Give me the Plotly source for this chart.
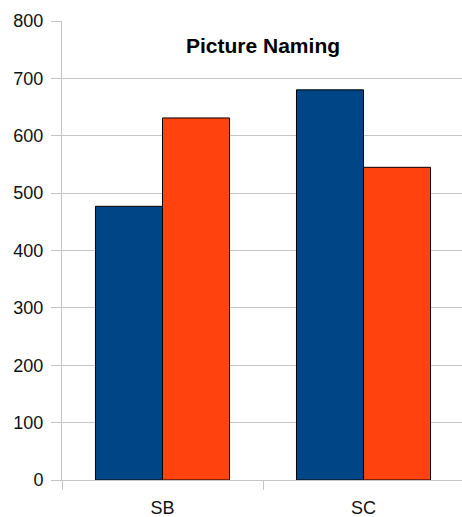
import plotly.graph_objects as go

categories = ["SB", "SC"]
series_a = [477, 680]
series_b = [631, 545]
y_ticks = [0, 100, 200, 300, 400, 500, 600, 700, 800]

FONT = "Liberation Sans, Arial, sans-serif"

fig = go.Figure()
fig.add_trace(go.Bar(x=categories, y=series_a, marker=dict(color="#004586", line=dict(color="#000000", width=1))))
fig.add_trace(go.Bar(x=categories, y=series_b, marker=dict(color="#ff420e", line=dict(color="#000000", width=1))))

fig.update_layout(
    width=462, height=517,
    margin=dict(l=62, r=0, t=21, b=37, autoexpand=False),
    paper_bgcolor="white", plot_bgcolor="white",
    showlegend=False,
    barmode="group", bargap=0.333, bargroupgap=0,
    font=dict(family=FONT, size=18, color="#111111"),
    annotations=[dict(text="<b>Picture Naming</b>", xref="paper", yref="paper",
                      x=0.5025, y=(480 - 46) / 459, xanchor="center", yanchor="middle",
                      showarrow=False, font=dict(family=FONT, size=21, color="#000000"))],
)
fig.update_yaxes(range=[0, 800], tickvals=y_ticks, showgrid=True, gridcolor="#c4c4c4", gridwidth=1,
                 showline=True, linecolor="#c4c4c4", linewidth=1, ticks="outside", ticklen=10,
                 tickcolor="#c4c4c4", zeroline=False, automargin=False, ticklabelstandoff=4)
fig.update_xaxes(range=[-0.5, 1.49], showline=True, linecolor="#c4c4c4", linewidth=1,
                 ticks="outside", ticklen=9, tickcolor="#c4c4c4", tickson="boundaries", showgrid=False,
                 automargin=False, ticklabelstandoff=11)

fig.write_html("out.html", config={"displayModeBar": False},
               post_script="document.body.style.margin='0';document.body.style.overflow='hidden';")
